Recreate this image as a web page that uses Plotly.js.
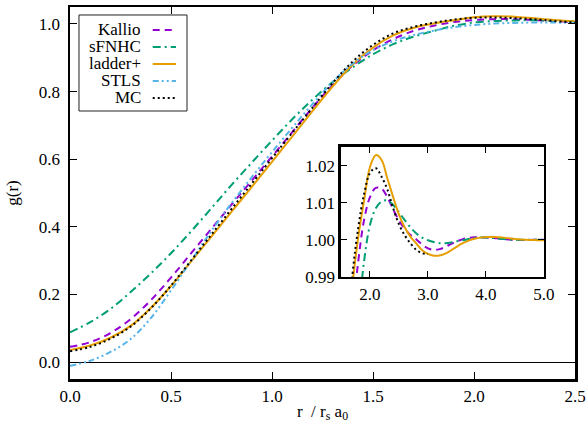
<!DOCTYPE html>
<html>
<head>
<meta charset="utf-8">
<script src="https://cdn.plot.ly/plotly-3.0.1.min.js"></script>
<style>html,body{margin:0;padding:0;background:#fff;}#chart{width:587px;height:432px;}</style>
</head>
<body>
<div id="chart"></div>
<script>
// r in units of r_s a_0
const r = [0.0,0.1,0.2,0.3,0.4,0.5,0.6,0.7,0.8,0.9,1.0,1.1,1.2,1.3,1.4,1.5,1.6,1.7,1.8,1.9,2.0,
           2.1,2.2,2.3,2.4,2.5,2.6,2.7,2.8,2.9,3.0,3.1,3.2,3.3,3.4,3.5,3.6,3.7,3.8,3.9,4.0,
           4.1,4.2,4.3,4.4,4.5,4.6,4.7,4.8,4.9,5.0];

const kallio = [0.045,0.059,0.086,0.127,0.183,0.250,0.322,0.394,0.466,0.537,0.608,0.680,0.752,0.819,0.877,0.922,0.955,0.979,0.9945,1.0055,1.0115,
                1.0140,1.0138,1.0115,1.0082,1.0052,1.0030,1.0013,1.0001,0.9987,0.9977,0.9973,0.9975,0.9981,0.9989,0.9996,1.0002,1.0005,1.0007,1.0007,1.0006,
                1.0005,1.0004,1.0002,1.0001,1.0000,0.99995,0.99995,1.0000,1.0000,1.0000];

const sfnhc = [0.088,0.118,0.157,0.207,0.262,0.322,0.387,0.455,0.524,0.590,0.655,0.718,0.776,0.828,0.872,0.910,0.940,0.962,0.979,0.9945,1.0040,
               1.0085,1.0103,1.0106,1.0094,1.0074,1.0053,1.0033,1.0017,1.0006,0.9999,0.9994,0.9991,0.9991,0.9993,0.9996,0.9999,1.0002,1.0005,1.0006,1.0006,
               1.0005,1.0004,1.0002,1.0001,1.0000,1.0000,1.0000,1.0000,1.0000,1.0000];

const ladder = [0.0355,0.049,0.072,0.107,0.160,0.225,0.298,0.371,0.445,0.518,0.592,0.667,0.742,0.815,0.880,0.930,0.966,0.988,1.0010,1.0108,1.0196,
                1.0228,1.0215,1.0165,1.0115,1.0068,1.0033,1.0008,0.9990,0.9972,0.9962,0.99575,0.9958,0.9963,0.9972,0.9982,0.9991,0.9998,1.0003,1.0006,1.0007,
                1.0008,1.0007,1.0006,1.0004,1.0002,1.0001,1.0000,0.99995,0.9999,0.9999];

const rSTLS = [0.0,0.1,0.2,0.3,0.4,0.5,0.6,0.7,0.8,0.9,1.0,1.1,1.2,1.3,1.4,1.5,1.6,1.7,1.8,1.9,2.0,2.1,2.2,2.3,2.4,2.5];
const stls = [-0.011,0.004,0.030,0.068,0.130,0.212,0.300,0.388,0.470,0.547,0.621,0.693,0.763,0.828,0.883,0.922,0.949,0.967,0.980,0.990,0.997,1.001,1.003,1.004,1.004,1.003];

const rMC = [0.0,0.1,0.2,0.3,0.4,0.5,0.6,0.7,0.8,0.9,1.0,1.1,1.2,1.3,1.4,1.5,1.6,1.7,1.8,1.9,2.0,2.1,2.2,2.3,2.4,2.5,2.6,2.7,2.8,2.9,3.0];
const mc = [0.032,0.045,0.069,0.105,0.159,0.226,0.301,0.377,0.453,0.528,0.603,0.678,0.752,0.825,0.889,0.938,0.972,0.991,1.0035,1.0125,1.0180,
            1.0193,1.0170,1.0135,1.0085,1.0042,1.0012,0.9990,0.9973,0.9964,0.9962];

const names = ['Kallio','sFNHC','ladder+','STLS','MC'];
const colors = ['#9400D3','#009E73','#E69F00','#56B4E9','#000000'];
const dashes = ['7px,5px','8px,4px,2px,4px','solid','6px,3px,2px,3px,2px,3px','2px,3px'];

const seriesX = [r, r, r, rSTLS, rMC];
const seriesY = [kallio, sfnhc, ladder, stls, mc];
const inInset = [true, true, true, false, true];

const FONT = 'Liberation Serif, Times New Roman, serif';
const traces = [];
for (let i = 0; i < names.length; i++) {
  traces.push({x: seriesX[i], y: seriesY[i], type:'scatter', mode:'lines', name:names[i],
    line:{color:colors[i], width:2, dash:dashes[i], shape:'spline', smoothing:1}, xaxis:'x', yaxis:'y', hoverinfo:'skip'});
}
for (let i = 0; i < names.length; i++) {
  if (!inInset[i]) continue;
  traces.push({x: seriesX[i], y: seriesY[i], type:'scatter', mode:'lines', name:names[i],
    line:{color:colors[i], width:2, dash:dashes[i], shape:'spline', smoothing:1}, xaxis:'x2', yaxis:'y2', hoverinfo:'skip'});
}

// custom legend (text right-aligned, sample on the right)
const shapes = [];
const annotations = [];
const legX0 = 0.0178, legX1 = 0.2317, legY0 = 0.7204, legY1 = 0.9785;
shapes.push({type:'rect', xref:'paper', yref:'paper', x0:legX0, x1:legX1, y0:legY0, y1:legY1,
  line:{color:'#222', width:1}, fillcolor:'white', layer:'above'});
const rowY = [0.9382, 0.8925, 0.8468, 0.8011, 0.7554];
for (let i = 0; i < names.length; i++) {
  annotations.push({xref:'paper', yref:'paper', x:0.142, y:rowY[i], xanchor:'right', yanchor:'middle',
    text:names[i], showarrow:false, height:15, borderpad:0, valign:'middle',
    font:{family:FONT, size:17, color:'black'}});
  shapes.push({type:'line', xref:'paper', yref:'paper', x0:0.1638, x1:0.2099, y0:rowY[i], y1:rowY[i],
    line:{color:colors[i], width:2, dash:dashes[i]}, layer:'above'});
}
// reference line g = 1 in inset
shapes.push({type:'line', xref:'x2 domain', yref:'y2', x0:0, x1:1, y0:1, y1:1, line:{color:'black', width:1}, layer:'below'});

const axCommon = {ticks:'inside', tickwidth:1, tickcolor:'black', showline:true, linewidth:2.5, linecolor:'black',
  mirror:'ticks', showgrid:false, zeroline:false, tickfont:{family:FONT, size:17, color:'black'}};

const layout = {
  width:587, height:432,
  margin:{l:70, r:12, t:7, b:53},
  paper_bgcolor:'white', plot_bgcolor:'white',
  showlegend:false,
  font:{family:FONT, size:17, color:'black'},
  xaxis: Object.assign({}, axCommon, {range:[0,2.5], tickvals:[0,0.5,1.0,1.5,2.0,2.5], tickformat:'.1f', ticklen:7,
    title:{text:'r  / r<sub>s</sub> a<sub>0</sub>', standoff:0, font:{family:FONT, size:17}}}),
  yaxis: Object.assign({}, axCommon, {range:[-0.05,1.05], tickvals:[0,0.2,0.4,0.6,0.8,1.0], tickformat:'.1f', ticklen:7,
    zeroline:true, zerolinecolor:'black', zerolinewidth:1, ticklabelstandoff:4,
    title:{text:'g(r)', standoff:16, font:{family:FONT, size:17}}}),
  xaxis2: Object.assign({}, axCommon, {domain:[0.5366,0.9386], anchor:'y2', range:[1.5,5.0], tickvals:[2,3,4,5], tickformat:'.1f', ticklen:6}),
  yaxis2: Object.assign({}, axCommon, {domain:[0.2742,0.6237], anchor:'x2', range:[0.99,1.025], tickvals:[0.99,1.00,1.01,1.02], tickformat:'.2f', ticklen:6}),
  shapes: shapes,
  annotations: annotations
};

Plotly.newPlot('chart', traces, layout, {staticPlot:true, displayModeBar:false});
</script>
</body>
</html>
